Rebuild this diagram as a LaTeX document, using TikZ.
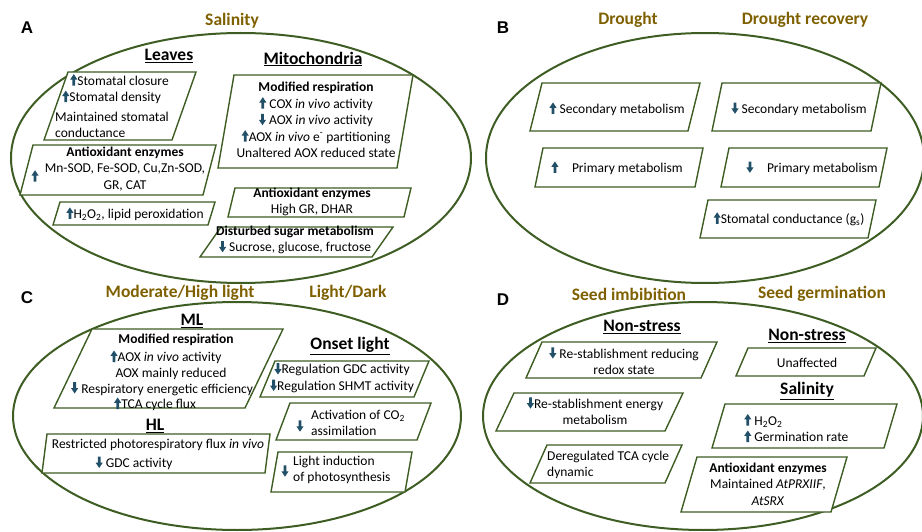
\documentclass[tikz,border=0pt]{standalone}
\usepackage{fontspec}
\setmainfont{Carlito}
\newfontfamily\letterfont{Liberation Sans}
\definecolor{framecol}{RGB}{61,93,35}
\definecolor{titlecol}{RGB}{127,96,0}
\definecolor{arrowcol}{RGB}{35,80,105}
% up and down marks in the text
\newcommand\incr{\tikz[baseline=0pt]\fill[arrowcol] (-1.4pt,-0.5pt) rectangle (1.4pt,6pt) (-3.6pt,5.6pt) -- (0pt,11pt) -- (3.6pt,5.6pt) -- cycle;}
\newcommand\decr{\tikz[baseline=0pt]\fill[arrowcol] (-1.4pt,10.8pt) rectangle (1.4pt,4.5pt) (-3.6pt,4.9pt) -- (0pt,-0.5pt) -- (3.6pt,4.9pt) -- cycle;}
% box: top-left x, top y, top-right x, bottom y, slant
\newcommand\pgram[5]{\draw[pbox] (#1,#2) -- (#3,#2) -- ({#3-#5},#4) -- ({#1-#5},#4) -- cycle;}

\begin{document}
\begin{tikzpicture}[x=1pt,y=-1pt,
    oval/.style={draw=framecol,line width=2pt},
    pbox/.style={draw=framecol,fill=white,line width=1.4pt},
    panel/.style={font=\letterfont\bfseries\fontsize{17}{19}\selectfont,inner sep=0pt},
    stress/.style={font=\bfseries\fontsize{17.5}{20}\selectfont,text=titlecol,inner sep=0pt},
    head/.style={font=\bfseries\fontsize{17.5}{20}\selectfont,inner sep=0pt},
    txt/.style={font=\fontsize{13.5}{16.5}\selectfont,inner sep=0pt,align=center}]
    \useasboundingbox (0,0) rectangle (922,532);

    % ovals
    \draw[oval] (241,158) ellipse [x radius=230, y radius=125];
    \draw[oval] (705,158) ellipse [x radius=219, y radius=125];
    \draw[oval] (237,416) ellipse [x radius=224, y radius=114];
    \draw[oval] (703,416) ellipse [x radius=220, y radius=114];

    % boxes
    \pgram{68}{72}{196}{140}{24}
    \pgram{33}{145}{216}{195}{13}
    \pgram{60}{202}{215}{225}{7}
    \pgram{234}{75}{413}{168}{16}
    \pgram{235}{188}{411}{217}{7}
    \pgram{221}{227}{393}{257}{21}
    \pgram{542}{83}{700}{131}{12}
    \pgram{722}{83}{881}{131}{10}
    \pgram{543}{148}{703}{187}{8}
    \pgram{729}{148}{887}{187}{8}
    \pgram{708}{200}{876}{238}{8}
    \pgram{92}{329}{283}{408}{38}
    \pgram{47}{434}{270}{473}{5}
    \pgram{275}{361}{429}{397}{15}
    \pgram{290}{403}{431}{440}{14}
    \pgram{278}{452}{412}{492}{7}
    \pgram{542}{342}{717}{378}{16}
    \pgram{514}{393}{683}{431}{18}
    \pgram{547}{445}{682}{483}{17}
    \pgram{748}{348}{876}{376}{12}
    \pgram{725}{404}{897}{448}{13}
    \pgram{697}{457}{847}{512}{16}

    % A
    \node[panel] (lblA) at (27,28) {A};
    \node[stress] (salt) at (232,21) {Salinity};
    \node[head] (leaves) at (169,56) {\underline{Leaves}};
    \node[txt,align=left,anchor=west] (stoma) at (62,89) {\hspace*{8pt}\incr Stomatal closure\\\incr Stomatal density};
    \node[txt,align=left,anchor=west] (cond) at (55,125) {Maintained stomatal\\conductance};
    \node[txt] (antA) at (125,169) {\textbf{Antioxidant enzymes}\\Mn-SOD, Fe-SOD, Cu,Zn-SOD,\\GR, CAT};
    \node[txt] (antAup) at (35,176) {\incr};
    \node[txt] (perox) at (135,214) {\incr H\textsubscript{2}O\textsubscript{2}, lipid peroxidation};
    \node[head] (mito) at (313,59) {\underline{Mitochondria}};
    \node[txt] (resp) at (316,120) {\textbf{Modified respiration}\\\incr\ COX \textit{in vivo} activity\\\decr\ AOX \textit{in vivo} activity\\\incr AOX \textit{in vivo} e\textsuperscript{-} partitioning\\Unaltered AOX reduced state};
    \node[txt] (antM) at (312,202) {\textbf{Antioxidant enzymes}\\High GR, DHAR};
    \node[txt] (sugar) at (295,240) {\textbf{Disturbed sugar metabolism}\\\decr\ Sucrose, glucose, fructose};

    % B
    \node[panel] (lblB) at (503,28) {B};
    \node[stress] (drought) at (628,20) {Drought};
    \node[stress] (recov) at (805,20) {Drought recovery};
    \node[txt] (sec1) at (617,109) {\incr\ Secondary metabolism};
    \node[txt] (sec2) at (799,109) {\decr\ Secondary metabolism};
    \node[txt] (prim1) at (617,168) {\incr\quad Primary metabolism};
    \node[txt] (prim2) at (812,168) {\decr\quad Primary metabolism};
    \node[txt] (gs) at (789,219) {\incr Stomatal conductance (g\textsubscript{s})};

    % C
    \node[panel] (lblC) at (27,298) {C};
    \node[stress] (mhl) at (180,293) {Moderate/High light};
    \node[stress] (ld) at (348,293) {Light/Dark};
    \node[head] (ml) at (192,321) {\underline{ML}};
    \node[txt,anchor=base] (ml1) at (176,343.5) {\textbf{Modified respiration}};
    \node[txt,anchor=base] (ml2) at (166,361.5) {\incr AOX \textit{in vivo} activity};
    \node[txt,anchor=base] (ml3) at (171,377) {AOX mainly reduced};
    \node[txt,anchor=base] (ml4) at (162,393) {\decr\ Respiratory energetic efficiency};
    \node[txt,anchor=base] (ml5) at (155,408.5) {\incr TCA cycle flux};
    \node[head] (hl) at (155,426) {\underline{HL}};
    \node[txt,anchor=base] (hl1) at (158,448.5) {Restricted photorespiratory flux \textit{in vivo}};
    \node[txt,anchor=base] (hl2) at (134,467.5) {\decr\ GDC activity};
    \node[head] (onset) at (350,346) {\underline{Onset light}};
    \node[txt] (reg) at (342,378) {\decr Regulation GDC activity\\\decr Regulation SHMT activity};
    \node[txt] (co2dn) at (300,426) {\decr};
    \node[txt,align=left,anchor=west] (co2) at (311,423) {Activation of CO\textsubscript{2}\\assimilation};
    \node[txt] (lightdn) at (285,471) {\decr};
    \node[txt,align=left,anchor=west] (light) at (293,470) {Light induction\\of photosynthesis};

    % D
    \node[panel] (lblD) at (503,300) {D};
    \node[stress] (imb) at (629,294) {Seed imbibition};
    \node[stress] (germ) at (822,294) {Seed germination};
    \node[head] (ns1) at (642,327) {\underline{Non-stress}};
    \node[txt] (redox) at (624,361) {\decr\ Re-stablishment reducing\\redox state};
    \node[txt] (energy) at (595,411) {\decr Re-stablishment energy\\metabolism};
    \node[txt,align=left,anchor=west] (tca) at (547,465) {Deregulated TCA cycle\\dynamic};
    \node[head] (ns2) at (807,336) {\underline{Non-stress}};
    \node[txt] (unaff) at (807,363) {Unaffected};
    \node[head] (salD) at (807,391) {\underline{Salinity}};
    \node[txt,align=left,anchor=west] (h2o2) at (744,428) {\incr\ H\textsubscript{2}O\textsubscript{2}\\\incr\ Germination rate};
    \node[txt] (antD) at (768,484) {\textbf{Antioxidant enzymes}\\Maintained \textit{AtPRXIIF},\\\textit{AtSRX}};
\end{tikzpicture}
\end{document}
